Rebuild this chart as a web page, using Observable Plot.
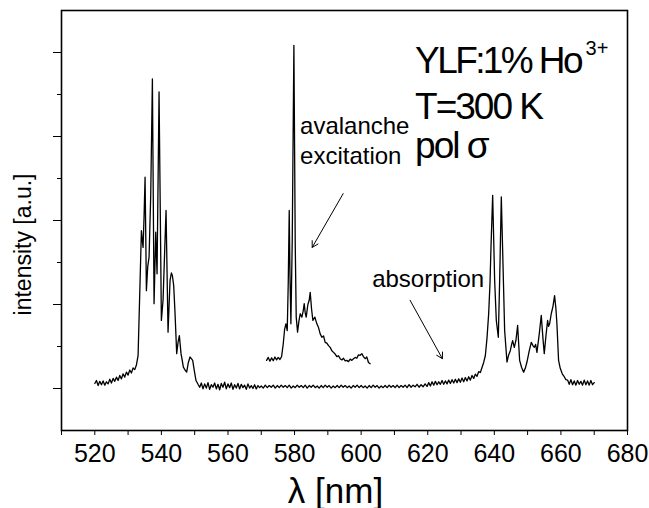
<!DOCTYPE html>
<html>
<head>
<meta charset="utf-8">
<script src="https://cdn.jsdelivr.net/npm/d3@7"></script>
<script src="https://cdn.jsdelivr.net/npm/@observablehq/plot@0.6"></script>
<style>
  html, body { margin: 0; padding: 0; background: #fff; }
  svg { font-family: "Liberation Sans", Arial, sans-serif; }
</style>
</head>
<body>
<div id="chart"></div>
<script>
// ---- data ----
const mainWavelength = [
  520,520.5,521,521.5,522,522.5,523,523.5,524,524.5,525,525.5,526,526.5,527,527.5,528,528.5,529,529.5,530,530.5,531,531.5,532,532.5,533,
  533.5,534,534.3,534.5,534.8,535.1,535.5,535.9,536.3,536.8,537.3,537.8,538.3,538.7,539.3,540.0,540.5,541.0,541.4,542.0,542.6,543.0,543.3,543.7,544.1,544.6,545.0,545.4,545.9,546.3,546.6,547.1,547.6,548.1,548.6,549.0,549.4,549.9,550.4,551.0,
  551.5,552,552.5,553,553.5,554,554.5,555,555.5,556,556.5,557,557.5,558,558.5,559,559.5,560,560.5,561,561.5,562,562.5,563,563.5,564,564.5,565,565.5,566,566.5,567,567.5,568,568.5,569,569.5,570,
  570.6,571.2,571.8,572.4,573.0,573.6,574.2,574.8,575.4,576.0,576.6,577.2,577.8,578.4,579.0,579.6,580.2,580.8,581.4,582.0,582.6,583.2,583.8,584.4,585.0,585.6,586.2,586.8,587.4,588.0,588.6,589.2,589.8,590.4,591.0,591.6,592.2,592.8,593.4,594.0,594.6,595.2,595.8,596.4,597.0,597.6,598.2,598.8,599.4,600.0,600.6,601.2,601.8,602.4,603.0,603.6,604.2,604.8,605.4,606.0,606.6,607.2,607.8,608.4,609.0,609.6,610.2,610.8,611.4,612.0,612.6,613.2,613.8,614.4,615.0,615.6,616.2,616.8,617.4,618.0,618.6,619.2,619.8,
  620.3,620.8,621.3,621.8,622.3,622.8,623.3,623.8,624.3,624.8,625.3,625.8,626.3,626.8,627.3,627.8,628.3,628.8,629.3,629.8,630.3,630.8,631.3,631.8,632.3,632.8,633.3,633.8,634.3,634.8,635.3,635.8,636.3,636.8,637.3,
  637.8,638.3,638.7,639.0,639.5,640.1,640.6,641.2,641.6,642.1,642.6,643.1,643.8,644.3,644.8,645.2,645.5,646.0,646.5,647.0,647.6,648.2,648.8,649.3,649.8,650.5,651.1,651.6,652.0,652.4,652.8,653.5,654.1,654.6,655.0,655.5,656.0,656.3,656.6,657.1,657.6,658.1,658.5,658.8,659.3,659.8,660.4,661.0,661.5,
  662,662.5,663,663.5,664,664.5,665,665.5,666,666.5,667,667.5,668,668.5,669,669.5,670
];
const mainIntensity = [
  1.12,1.19,1.07,1.17,1.09,1.18,1.08,1.16,1.11,1.22,1.13,1.24,1.17,1.27,1.19,1.31,1.23,1.35,1.27,1.39,1.32,1.44,1.37,1.49,1.45,1.56,1.78,
  3.26,4.76,4.50,4.36,5.10,6.03,3.33,3.90,4.13,5.60,8.37,3.02,4.72,3.73,8.06,2.62,3.10,4.30,5.24,2.34,3.57,3.75,3.69,3.45,2.79,1.83,2.10,2.26,1.83,1.65,1.51,1.44,1.39,1.62,1.75,1.71,1.67,1.42,1.19,1.10,
  1.03,1.13,0.99,1.11,1.01,1.14,0.98,1.09,1.03,1.13,0.99,1.10,0.97,1.12,1.03,1.15,0.99,1.11,1.02,1.13,0.98,1.09,1.01,1.12,0.99,1.10,1.02,1.08,0.98,1.11,1.01,1.07,1.00,1.09,0.99,1.07,1.02,1.06,
  1.01,1.08,1.02,1.07,1.03,1.08,1.01,1.07,1.02,1.08,1.03,1.07,1.02,1.08,1.01,1.06,1.02,1.08,1.03,1.07,1.02,1.08,1.01,1.07,1.03,1.08,1.02,1.06,1.01,1.07,1.02,1.08,1.03,1.07,1.01,1.06,1.02,1.07,1.02,1.08,1.03,1.07,1.02,1.06,1.01,1.07,1.03,1.08,1.02,1.07,1.02,1.06,1.01,1.07,1.02,1.08,1.03,1.07,1.01,1.06,1.02,1.07,1.02,1.08,1.03,1.07,1.02,1.08,1.02,1.07,1.03,1.08,1.02,1.09,1.03,1.08,1.04,1.10,1.03,1.09,1.04,1.11,1.05,
  1.14,1.06,1.16,1.08,1.17,1.09,1.16,1.10,1.19,1.10,1.18,1.11,1.20,1.12,1.21,1.13,1.22,1.14,1.23,1.15,1.25,1.16,1.26,1.18,1.28,1.20,1.31,1.24,1.34,1.29,1.40,1.38,1.50,1.62,1.78,
  2.20,2.78,3.50,4.37,5.60,3.57,2.62,2.22,3.57,5.56,3.97,2.38,1.63,1.80,1.90,2.05,2.14,1.98,2.15,2.50,1.67,1.50,1.39,1.48,1.63,1.90,2.10,2.02,1.98,2.05,1.86,2.30,2.74,2.20,1.83,2.25,2.62,2.48,2.54,2.78,2.95,3.21,2.90,2.54,1.67,1.48,1.35,1.28,1.21,
  1.20,1.10,1.21,1.09,1.18,1.08,1.19,1.10,1.17,1.08,1.20,1.09,1.18,1.08,1.19,1.09,1.14
];
const avalancheWavelength = [
  571.6,572.1,572.6,573.1,573.6,574.1,574.6,575.1,575.6,576.1,576.6,577.0,577.4,577.8,578.1,578.4,578.6,578.9,579.3,579.8,580.2,580.5,580.9,581.3,581.7,582.2,582.6,582.9,583.2,583.5,584.0,584.4,584.7,585.1,585.5,586.1,586.7,587.2,587.7,588.2,588.7,589.2,589.7,590.2,590.7,591.2,591.7,592.2,592.7,593.2,593.7,594.2,594.7,595.2,595.7,596.2,596.7,597.2,597.7,598.2,598.7,599.2,599.7,600.2,600.7,601.2,601.7,602.2,602.7
];
const avalancheIntensity = [
  1.67,1.74,1.65,1.73,1.66,1.75,1.68,1.74,1.69,1.76,2.06,2.40,2.54,2.38,3.50,5.24,3.80,2.54,4.50,9.17,4.45,2.70,2.34,2.60,2.78,2.70,2.85,3.02,2.80,2.70,3.00,3.10,3.29,2.90,2.62,2.70,2.54,2.45,2.30,2.22,2.25,2.10,2.08,2.02,1.98,1.90,1.86,1.82,1.76,1.78,1.71,1.68,1.72,1.66,1.67,1.64,1.70,1.67,1.71,1.74,1.72,1.80,1.79,1.83,1.76,1.71,1.75,1.62,1.59
];
const xTickLabels = [520,540,560,580,600,620,640,660,680];
const xMinorTicks = [510,530,550,570,590,610,630,650,670];
const yMajorTicks = [1,3,5,7,9];
const yMinorTicks = [2,4,6,8];

const mainData = mainWavelength.map((x, i) => ({x, y: mainIntensity[i]}));
const avalancheData = avalancheWavelength.map((x, i) => ({x, y: avalancheIntensity[i]}));

const font = "Liberation Sans, Arial, sans-serif";

const chart = Plot.plot({
  width: 649,
  height: 508,
  marginLeft: 61,
  marginRight: 22,
  marginTop: 10,
  marginBottom: 78,
  style: {fontFamily: font, background: "#fff", color: "#000"},
  x: {domain: [510, 680]},
  y: {domain: [0, 10]},
  marks: [
    Plot.frame({stroke: "#000", strokeWidth: 1.6}),
    Plot.axisX({ticks: xTickLabels, tickSize: 5, tickPadding: 9, fontSize: 25, label: null, tickFormat: d => String(d)}),
    Plot.axisX({ticks: xMinorTicks, tickSize: 5, tickFormat: () => "", label: null}),
    Plot.axisY({ticks: yMajorTicks, tickSize: 8, tickFormat: () => "", label: null}),
    Plot.axisY({ticks: yMinorTicks, tickSize: 4, tickFormat: () => "", label: null}),
    Plot.line(mainData, {x: "x", y: "y", stroke: "#000", strokeWidth: 1.3}),
    Plot.line(avalancheData, {x: "x", y: "y", stroke: "#000", strokeWidth: 1.3}),
    // axis labels
    Plot.text(["λ [nm]"], {frameAnchor: "bottom", textAnchor: "middle", dx: -9, dy: 72, fontSize: 35, fill: "#000"}),
    Plot.text(["intensity [a.u.]"], {frameAnchor: "left", textAnchor: "middle", dx: -38, dy: 24, rotate: -90, fontSize: 23, fill: "#000"}),
    // annotations
    Plot.text(["YLF:1% Ho"], {x: [616.2], y: [8.80], textAnchor: "start", fontSize: 37, fill: "#000"}),
    Plot.text(["3+"], {x: [667.4], y: [9.10], textAnchor: "start", fontSize: 20, fill: "#000"}),
    Plot.text(["T=300 K"], {x: [616.2], y: [7.69], textAnchor: "start", fontSize: 37, fill: "#000"}),
    Plot.text(["pol σ"], {x: [616.2], y: [6.76], textAnchor: "start", fontSize: 37, fill: "#000"}),
    Plot.text(["avalanche"], {x: [581.65], y: [7.25], textAnchor: "start", fontSize: 24, fill: "#000"}),
    Plot.text(["excitation"], {x: [581.65], y: [6.54], textAnchor: "start", fontSize: 24, fill: "#000"}),
    Plot.text(["absorption"], {x: [603.3], y: [3.59], textAnchor: "start", fontSize: 24, fill: "#000"}),
    Plot.arrow([0], {x1: [594.6], y1: [5.64], x2: [585.3], y2: [4.36], stroke: "#000", strokeWidth: 1, headLength: 10}),
    Plot.arrow([0], {x1: [614.7], y1: [3.10], x2: [624.4], y2: [1.71], stroke: "#000", strokeWidth: 1, headLength: 10})
  ]
});

d3.select(chart).selectAll("text").each(function() {
  const t = this.textContent;
  if (t === "YLF:1% Ho") d3.select(this).attr("letter-spacing", "-2.6px");
  if (t === "T=300 K" || t === "pol σ") d3.select(this).attr("letter-spacing", "-2px");
});

document.getElementById("chart").appendChild(chart);
</script>
</body>
</html>
